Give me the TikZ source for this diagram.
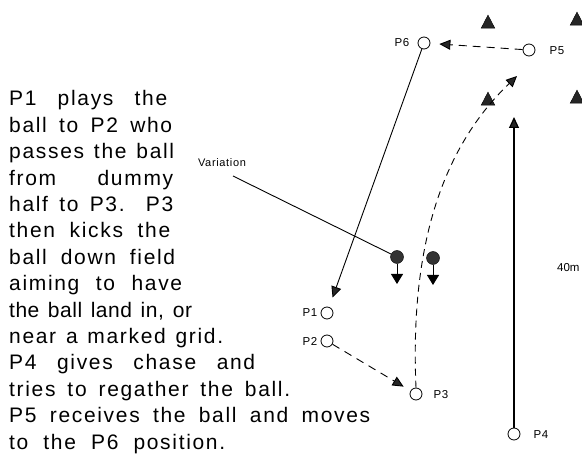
\documentclass[tikz,border=0pt]{standalone}
\usepackage{fontspec}
\setmainfont{Liberation Sans}
\newfontfamily\bodyfont[LetterSpace=8]{Liberation Sans}
\newfontfamily\bodytight[LetterSpace=2.5]{Liberation Sans}
\newfontfamily\labfont[LetterSpace=6]{Liberation Sans}
\usetikzlibrary{arrows.meta,shapes.geometric}
\begin{document}
\begin{tikzpicture}[x=1pt,y=-1pt,
  player/.style={draw, circle, minimum size=12pt, inner sep=0pt, line width=0.8pt},
  plab/.style={font=\labfont\fontsize{11.5}{12}\selectfont, inner sep=0pt},
  cone/.style={isosceles triangle, isosceles triangle apex angle=55, shape border rotate=90, fill=black!85, draw=black, minimum height=13pt, minimum width=13pt, inner sep=0pt},
  ball/.style={circle, fill=black!80, draw=black, minimum size=13pt, inner sep=0pt},
  body/.style={anchor=base west, inner sep=0pt, font=\bodyfont\fontsize{21}{26}\selectfont},
  run/.style={line width=0.9pt, -{Triangle[length=11pt,width=10pt,fill=black!85]}},
  dashrun/.style={run, dash pattern=on 8pt off 6pt},
  balltip/.style={line width=0.9pt, -{Triangle[length=10pt,width=12pt]}}
]
\useasboundingbox (0,0) rectangle (582,468);
\clip (0,0) rectangle (582,468);

% description text
\node[body] (t1)  at (9,106.0) {\makebox[158pt][s]{P1 plays the}};
\node[body] (t2)  at (9,132.4) {\makebox[163pt][s]{ball to P2 who}};
\node[body] (t3)  at (9,158.8) {\makebox[165pt][s]{passes the ball}};
\node[body] (t4)  at (9,185.2) {\makebox[164pt][s]{from dummy}};
\node[body] (t5)  at (9,211.6) {\makebox[164pt][s]{half to P3. P3}};
\node[body] (t6)  at (9,238.0) {\makebox[161pt][s]{then kicks the}};
\node[body] (t7)  at (9,264.4) {\makebox[166pt][s]{ball down field}};
\node[body] (t8)  at (9,290.8) {\makebox[173pt][s]{aiming to have}};
\node[body, font=\bodytight\fontsize{21}{26}\selectfont] (t9) at (9,317.2) {\makebox[183pt][s]{the ball land in, or}};
\node[body] (t10) at (9,343.6) {\makebox[214pt][s]{near a marked grid.}};
\node[body] (t11) at (9,370.0) {\makebox[246pt][s]{P4 gives chase and}};
\node[body] (t12) at (9,396.4) {\makebox[281pt][s]{tries to regather the ball.}};
\node[body] (t13) at (9,422.8) {\makebox[361pt][s]{P5 receives the ball and moves}};
\node[body] (t14) at (9,449.2) {\makebox[216pt][s]{to the P6 position.}};

% cones
\node[cone] (c1) at (488,24) {};
\node[cone] (c2) at (577,21) {};
\node[cone] (c3) at (488,101) {};
\node[cone] (c4) at (577,99) {};

% players
\node[player] (P6) at (424,43) {};
\node[player] (P5) at (529,50) {};
\node[player] (P1) at (327,313) {};
\node[player] (P2) at (327,341) {};
\node[player] (P3) at (416,394) {};
\node[player] (P4) at (514,434) {};

\node[plab] (L6) at (402,43) {P6};
\node[plab] (L5) at (557,51) {P5};
\node[plab] (L1) at (310,313) {P1};
\node[plab] (L2) at (310,341) {P2};
\node[plab] (L3) at (441,395) {P3};
\node[plab] (L4) at (541,435) {P4};

% balls
\node[ball] (b1) at (397,257) {};
\node[ball] (b2) at (433,258) {};
\coordinate (b1end) at (397,284);
\coordinate (b2end) at (433,285);
\draw[balltip] (b1) -- (b1end);
\draw[balltip] (b2) -- (b2end);

% variation
\node[plab, font=\labfont\fontsize{11}{12}\selectfont] (var) at (222,163) {Variation};
\coordinate (varstart) at (233,176);
\draw[line width=0.9pt] (varstart) -- (b1);

% 40m
\node[inner sep=0pt, anchor=west, font=\fontsize{11.5}{12}\selectfont] (dist) at (557,268) {40m};

% movements
\draw[dashrun, shorten >=9pt] (P5) -- (P6);
\draw[run, shorten >=10pt] (P6) -- (P1);
\draw[dashrun, shorten >=8pt] (P2) -- (P3);
\coordinate (kickend) at (517,76);
\draw[run, dash pattern=on 7pt off 5pt] (P3.north) .. controls (410,250) and (440,150) .. (kickend);
\coordinate (p4end) at (514,117);
\draw[run, line width=1.2pt] (P4) -- (p4end);
\end{tikzpicture}
\end{document}
